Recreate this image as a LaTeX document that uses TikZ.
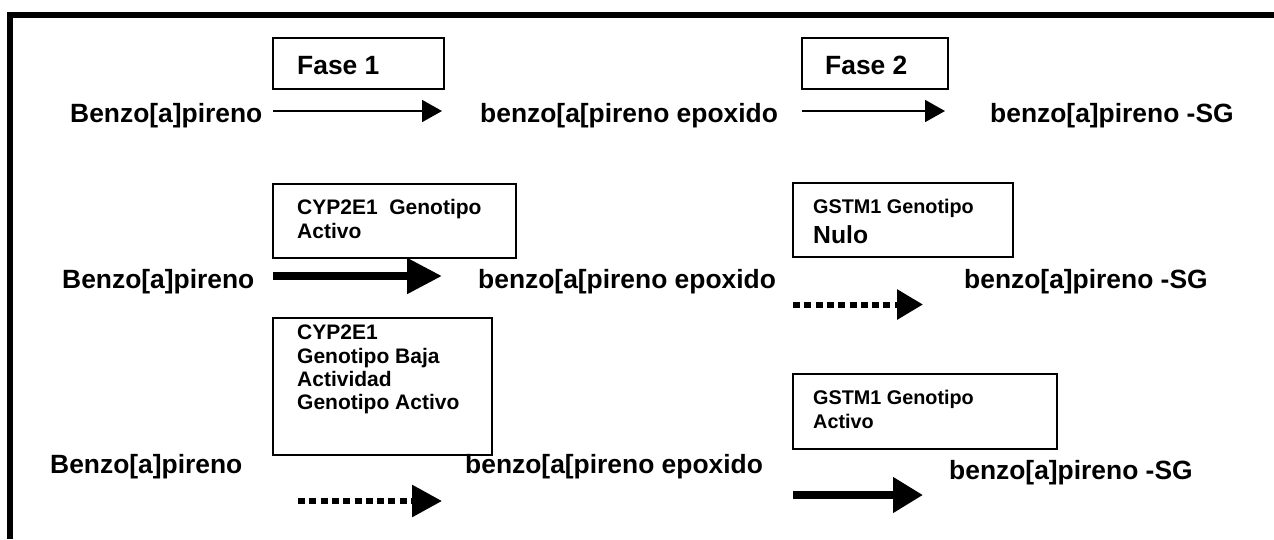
\documentclass[tikz,border=0pt]{standalone}
\usepackage{fontspec}
\setmainfont{Liberation Sans}
\usetikzlibrary{arrows.meta}
\begin{document}
\begin{tikzpicture}[x=1pt,y=-1pt,
  lbl/.style={anchor=base west,inner sep=0pt,font=\fontsize{26.4}{30}\selectfont\bfseries},
  boxtxt/.style={anchor=base west,inner sep=0pt,font=\fontsize{21}{24}\selectfont\bfseries},
  smalltxt/.style={anchor=base west,inner sep=0pt,font=\fontsize{19.8}{24}\selectfont\bfseries},
  box/.style={draw,line width=1.6pt,anchor=north west,inner sep=0pt,outer sep=0pt},
  thinarrow/.style={line width=1.8pt,-{Triangle[length=20pt,width=22pt]}},
  thickarrow/.style={line width=8pt,-{Triangle[length=#1]}},
  dotarrow/.style={line width=6pt,dash pattern=on 7pt off 4.3pt,-{Triangle[length=#1]}}
]
\useasboundingbox (0,0) rectangle (1274,539);
% frame
\draw[line width=6pt] (10.3,539) -- (10.3,15) -- (1274,15);

% boxes
\node[box,minimum width=171pt,minimum height=51pt] (f1) at (273,38) {};
\node[box,minimum width=146pt,minimum height=51pt] (f2) at (802,38) {};
\node[box,minimum width=243pt,minimum height=74pt] (b2a) at (273,184) {};
\node[box,minimum width=220pt,minimum height=74pt] (b2b) at (793,183) {};
\node[box,minimum width=219pt,minimum height=137pt] (b3a) at (273,318) {};
\node[box,minimum width=264pt,minimum height=75pt] (b3b) at (793,374) {};

% box texts
\node[lbl] (f1t) at (297,74) {Fase 1};
\node[lbl] (f2t) at (825,74) {Fase 2};
\node[boxtxt] (b2a1) at (297,214) {CYP2E1\ \ Genotipo};
\node[boxtxt] (b2a2) at (297,238) {Activo};
\node[smalltxt] (b2b1) at (813,213) {GSTM1 Genotipo};
\node[anchor=base west,inner sep=0pt,font=\fontsize{24.7}{28}\selectfont\bfseries] (b2b2) at (813,243) {Nulo};
\node[boxtxt] (b3a1) at (297,339) {CYP2E1};
\node[boxtxt] (b3a2) at (297,363) {Genotipo Baja};
\node[boxtxt] (b3a3) at (297,386) {Actividad};
\node[boxtxt] (b3a4) at (297,409) {Genotipo Activo};
\node[smalltxt] (b3b1) at (813,404) {GSTM1 Genotipo};
\node[smalltxt] (b3b2) at (813,428) {Activo};

% row labels
\node[lbl] (r1a) at (70,122) {Benzo[a]pireno};
\node[lbl] (r1b) at (480,122) {benzo[a[pireno epoxido};
\node[lbl] (r1c) at (990,122) {benzo[a]pireno -SG};
\node[lbl] (r2a) at (62,288) {Benzo[a]pireno};
\node[lbl] (r2b) at (478,288) {benzo[a[pireno epoxido};
\node[lbl] (r2c) at (964,288) {benzo[a]pireno -SG};
\node[lbl] (r3a) at (50,473) {Benzo[a]pireno};
\node[lbl] (r3b) at (465,473) {benzo[a[pireno epoxido};
\node[lbl] (r3c) at (949,479) {benzo[a]pireno -SG};

% arrow end points
\coordinate (a1s) at (273,111); \coordinate (a1e) at (442,111);
\coordinate (a2s) at (802,111); \coordinate (a2e) at (945,111);
\coordinate (a3s) at (273,276); \coordinate (a3e) at (442,276);
\coordinate (a4s) at (793,304.5); \coordinate (a4e) at (923,304.5);
\coordinate (a5s) at (298,501); \coordinate (a5e) at (442,501);
\coordinate (a6s) at (793,495); \coordinate (a6e) at (923,495);

\draw[thinarrow] (a1s) -- (a1e);
\draw[thinarrow] (a2s) -- (a2e);
\draw[thickarrow={35pt,width=34pt}] (a3s) -- (a3e);
\draw[dotarrow={26pt,width=29pt}] (a4s) -- (a4e);
\draw[dotarrow={30pt,width=31pt}] (a5s) -- (a5e);
\draw[thickarrow={30pt,width=34pt}] (a6s) -- (a6e);
\end{tikzpicture}
\end{document}
